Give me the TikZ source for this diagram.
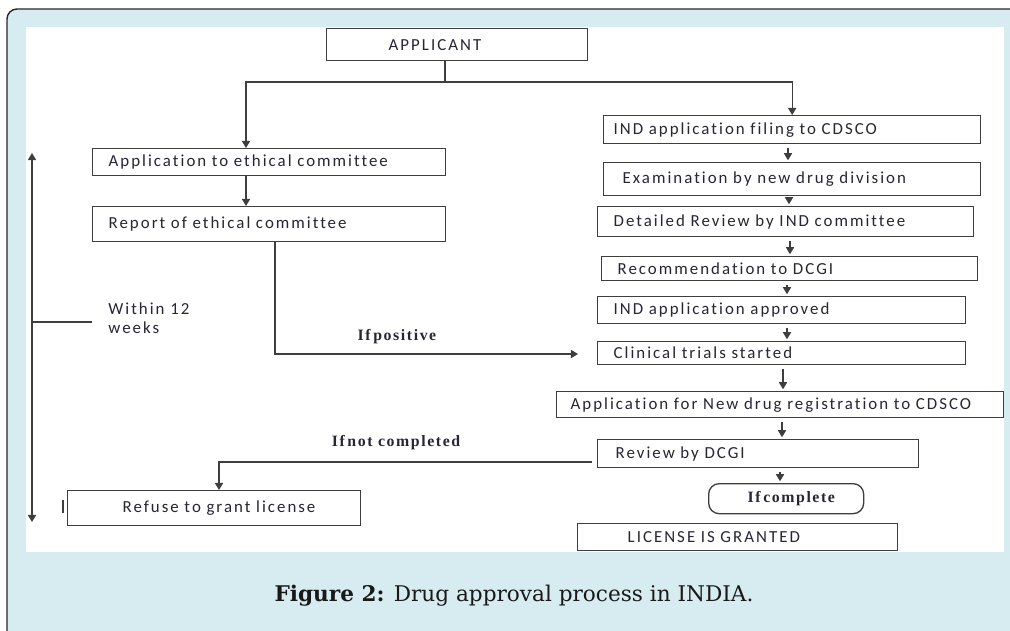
\documentclass[tikz,border=0pt]{standalone}
\usepackage{fontspec}
\usepackage{tikz}
\usetikzlibrary{arrows.meta}
\newfontfamily\boxfont{Carlito}[LetterSpace=12,Ligatures=NoCommon]
\newfontfamily\condfont{Liberation Serif}[LetterSpace=10]
\newfontfamily\capfont{DejaVu Serif}
\definecolor{bandblue}{RGB}{215,236,241}
\definecolor{linegray}{RGB}{62,62,62}
\definecolor{textdark}{RGB}{38,38,52}

\begin{document}
\begin{tikzpicture}[x=0.02cm,y=-0.02cm,>={Triangle[length=4pt,width=4.6pt]},line cap=butt,
  stepbox/.style n args={3}{draw=linegray,line width=0.75pt,anchor=north west,
    minimum width=#1*0.02cm,minimum height=#2*0.02cm,inner ysep=0pt,
    inner xsep=#3*0.02cm,text width=#1*0.02cm-2*#3*0.02cm,align=left,
    execute at begin node=\hbox\bgroup,execute at end node=\egroup,
    font=\boxfont\fontsize{9.6}{11}\selectfont,text=textdark},
  condnote/.style={font=\condfont\bfseries\fontsize{9}{10}\selectfont,text=textdark,inner sep=0pt},
  link/.style={draw=linegray,line width=0.75pt}]
\useasboundingbox (0,0) rectangle (1010,630);
\begin{scope}
\clip (0,0) rectangle (1010,630);
\filldraw[fill=bandblue,draw=black!85,line width=0.8pt,rounded corners=0.2cm] (7,9) rectangle (1040,660);
\fill[white] (26,27) rectangle (1004,552);
\end{scope}
\node[stepbox={261}{32}{62}] (applicant) at (326,28) {APPLICANT};
\node[stepbox={353}{27}{16}] (ethapp) at (92,148) {Application to ethical committee};
\node[stepbox={353}{35}{16}] (ethrep) at (92,206) {Report of ethical committee};
\node[stepbox={377}{28}{10}] (indfile) at (603,115) {IND application filing to CDSCO};
\node[stepbox={377}{33}{19}] (exam) at (603,162) {Examination by new drug division};
\node[stepbox={376}{30}{16}] (review) at (597,206) {Detailed Review by IND committee};
\node[stepbox={376}{24}{16}] (recom) at (601,256) {Recommendation to DCGI};
\node[stepbox={368}{27}{16}] (approved) at (597,296) {IND application approved};
\node[stepbox={368}{23}{16}] (trials) at (597,341) {Clinical trials started};
\node[stepbox={447}{26}{14}] (newdrug) at (556,391) {Application for New drug registration to CDSCO};
\node[stepbox={321}{28}{18}] (dcgi) at (597,439) {Review by DCGI};
\node[stepbox={155}{30}{39},rounded corners=6pt,font=\condfont\bfseries\fontsize{9}{10}\selectfont] (complete) at (708,483) {If\,complete};
\node[stepbox={320}{27}{50}] (license) at (577,523) {LICENSE IS GRANTED};
\node[stepbox={293}{35}{55}] (refuse) at (67,490) {Refuse to grant license};
\node[anchor=west,align=left,inner sep=0pt,font=\boxfont\fontsize{9.6}{11}\selectfont,text=textdark] (within) at (108,318) {Within 12\\weeks};
\node[condnote] (ifpos) at (397,337) {If\,positive};
\node[condnote] (ifnot) at (396,443) {If\,not completed};
\coordinate (fork) at (445,82);
\coordinate (lspine) at (246,0);
\coordinate (drop) at (275,354);
\coordinate (notdone) at (219,462);
\coordinate (ttop) at (32,153);
\coordinate (tbot) at (32,522);
\coordinate (tick) at (32,322);
\draw[link] (applicant.south -| fork) -- (fork);
\draw[link,->] (fork) -| (ethapp.north -| lspine);
\draw[link,->] (fork) -| (indfile.north);
\draw[link,->] (ethapp.south -| lspine) -- (ethrep.north -| lspine);
\draw[link,->,shorten >=0.38cm] (ethrep.south -| drop) -- (drop) -- (drop -| trials.west);
\foreach \a/\b/\x in {indfile/exam/788,exam/review/789,review/recom/790,recom/approved/787,approved/trials/787,trials/newdrug/783,newdrug/dcgi/782,dcgi/complete/780}
  \draw[link,->,shorten <=2pt,shorten >=1pt] (\a.south -| \x,0) -- (\b.north -| \x,0);
\draw[link,->,shorten <=0.1cm] (dcgi.west |- notdone) -- (notdone) -- (refuse.north -| notdone);
\draw[link,<->] (ttop) -- (tbot);
\draw[link] (tick) -- ++(60,0);
\draw[linegray,line width=1.4pt] (63,500) -- (63,513);
\node[font=\capfont\fontsize{12.3}{14}\selectfont,text=black!90] (caption) at (514,596) {\textbf{Figure 2:} Drug approval process in INDIA.};
\end{tikzpicture}
\end{document}
